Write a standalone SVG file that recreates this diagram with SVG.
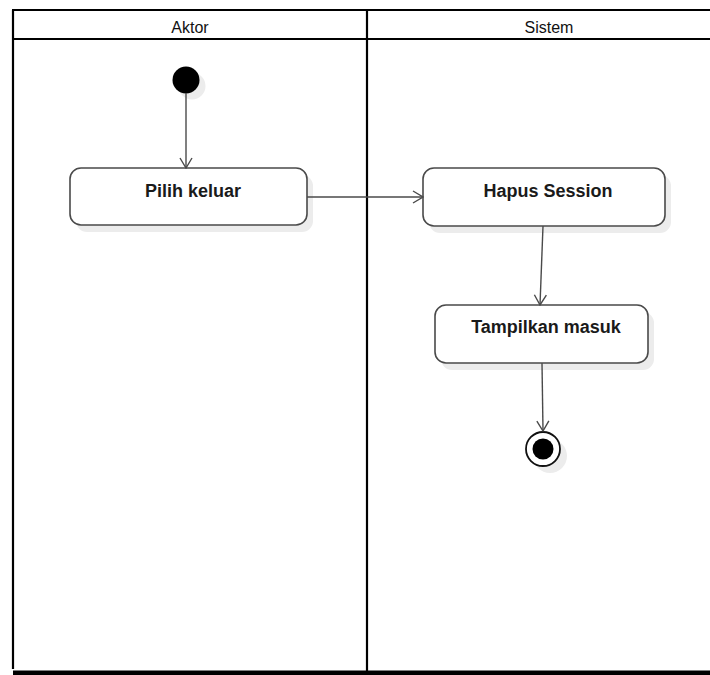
<svg xmlns="http://www.w3.org/2000/svg" width="710" height="675" viewBox="0 0 710 675">
<style>
.lane{stroke:#000;stroke-width:2.2;fill:none}
.hdr{font-family:"Liberation Sans",Arial,sans-serif;font-size:16px;fill:#111;text-anchor:middle}
.act{fill:#fff;stroke:#4a4a4a;stroke-width:1.6}
.shadow{fill:#ececec}
.lbl{font-family:"Liberation Sans",Arial,sans-serif;font-size:18px;font-weight:bold;fill:#1a1a1a;text-anchor:middle}
.edge{stroke:#4a4a4a;stroke-width:1.4;fill:none}
</style>
<defs>
<marker id="open" viewBox="0 0 12 14" refX="11" refY="7" markerWidth="12" markerHeight="14" markerUnits="userSpaceOnUse" orient="auto">
<path d="M1,1 L11,7 L1,13" fill="none" stroke="#4a4a4a" stroke-width="1.4"/>
</marker>
</defs>
<rect width="710" height="675" fill="#fff"/>
<g id="swimlanes">
<path class="lane" d="M12,10 H712 M13,10 V669 M13,39 H712 M367,10 V671"/>
<rect x="13" y="670.5" width="700" height="5" fill="#000"/>
<text class="hdr" x="190" y="33">Aktor</text>
<text class="hdr" x="549" y="33">Sistem</text>
</g>
<g id="start">
<circle class="shadow" cx="192" cy="86" r="13.5"/>
<circle cx="186" cy="80" r="13.5" fill="#000"/>
</g>
<g id="pilih-keluar">
<rect class="shadow" x="76" y="175" width="237" height="57" rx="11"/>
<rect class="act" x="70" y="168" width="237" height="57" rx="11"/>
<text class="lbl" x="193" y="197">Pilih keluar</text>
</g>
<g id="hapus-session">
<rect class="shadow" x="429" y="175" width="242" height="58" rx="11"/>
<rect class="act" x="423" y="168" width="242" height="58" rx="11"/>
<text class="lbl" x="548" y="197">Hapus Session</text>
</g>
<g id="tampilkan-masuk">
<rect class="shadow" x="441" y="312" width="213" height="58" rx="11"/>
<rect class="act" x="435" y="305" width="213" height="58" rx="11"/>
<text class="lbl" x="546" y="333">Tampilkan masuk</text>
</g>
<g id="end">
<circle class="shadow" cx="550" cy="456" r="17"/>
<circle cx="543" cy="449" r="17" fill="#fff" stroke="#111" stroke-width="1.8"/>
<circle cx="543" cy="449" r="10.5" fill="#000"/>
</g>
<g id="connectors">
<line class="edge" x1="186" y1="93" x2="186" y2="168" marker-end="url(#open)"/>
<line class="edge" x1="307" y1="197" x2="423" y2="197" marker-end="url(#open)"/>
<line class="edge" x1="543" y1="226" x2="540" y2="305" marker-end="url(#open)"/>
<line class="edge" x1="542" y1="363" x2="543" y2="431" marker-end="url(#open)"/>
</g>
</svg>
